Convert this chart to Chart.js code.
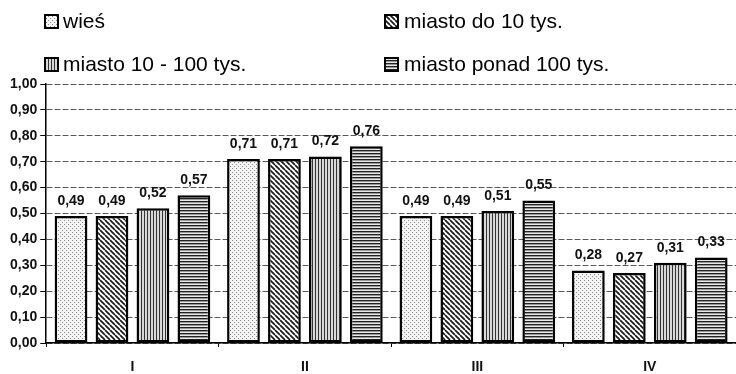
<!DOCTYPE html>
<html>
<head>
<meta charset="utf-8">
<script src="https://cdn.jsdelivr.net/npm/chart.js@4/dist/chart.umd.min.js"></script>
<style>
  html, body { margin: 0; padding: 0; background: #fff; }
  #wrap { width: 736px; height: 374px; position: relative; }
</style>
</head>
<body>
<div id="wrap"><canvas id="c"></canvas></div>
<script>
// Categories and series values
const categories = ['I', 'II', 'III', 'IV'];
const seriesNames = ['wieś', 'miasto do 10 tys.', 'miasto 10 - 100 tys.', 'miasto ponad 100 tys.'];
const wies = [0.49, 0.71, 0.49, 0.28];
const miastoDo10 = [0.49, 0.71, 0.49, 0.27];
const miasto10do100 = [0.52, 0.72, 0.51, 0.31];
const miastoPonad100 = [0.57, 0.76, 0.55, 0.33];
const yMin = 0, yMax = 1, yStep = 0.1;

const FONT = '"Liberation Sans", Arial, Helvetica, sans-serif';
const fmt = v => v.toFixed(2).replace('.', ',');

// Hatch fills for the four series
function makePattern(kind) {
  const c = document.createElement('canvas');
  const g = c.getContext('2d');
  if (kind === 'dots') {
    c.width = c.height = 4;
    g.fillStyle = '#f4f4f4'; g.fillRect(0, 0, 4, 4);
    g.fillStyle = '#8a8a8a';
    g.fillRect(0, 0, 1, 1); g.fillRect(2, 2, 1, 1);
  } else if (kind === 'diag') {
    const s = 5;
    c.width = c.height = s;
    g.fillStyle = '#fff'; g.fillRect(0, 0, s, s);
    g.strokeStyle = '#1a1a1a'; g.lineWidth = 1.7;
    for (const k of [-s, 0, s]) {
      g.beginPath(); g.moveTo(k, 0); g.lineTo(k + s, s); g.stroke();
    }
  } else if (kind === 'vert') {
    c.width = 3; c.height = 3;
    g.fillStyle = '#d8d8d8'; g.fillRect(0, 0, 3, 3);
    g.fillStyle = '#333'; g.fillRect(0, 0, 1, 3);
  } else {
    c.width = 3; c.height = 3;
    g.fillStyle = '#e8e8e8'; g.fillRect(0, 0, 3, 3);
    g.fillStyle = '#222'; g.fillRect(0, 0, 3, 1.4);
  }
  return g.createPattern(c, 'repeat');
}

const kinds = ['dots', 'diag', 'vert', 'horiz'];
const seriesData = [wies, miastoDo10, miasto10do100, miastoPonad100];

const datasets = seriesNames.map((name, i) => ({
  label: name,
  data: seriesData[i],
  backgroundColor: makePattern(kinds[i]),
  borderColor: '#000',
  borderWidth: 2.5,
  borderSkipped: false,
  categoryPercentage: 0.95,
  barPercentage: 0.8
}));

// Legend in two columns, two rows above the plot
const legendPlugin = {
  id: 'gridLegend',
  afterDraw(chart) {
    const ctx = chart.ctx;
    const boxX = [45, 385];
    const textX = [63, 404];
    const baselines = [28, 71];
    ctx.save();
    ctx.font = '21px ' + FONT;
    ctx.textBaseline = 'alphabetic';
    ctx.textAlign = 'left';
    chart.data.datasets.forEach((ds, i) => {
      const col = i % 2;
      const base = baselines[Math.floor(i / 2)];
      ctx.fillStyle = ds.backgroundColor;
      ctx.fillRect(boxX[col], base - 13, 13, 13);
      ctx.strokeStyle = '#000';
      ctx.lineWidth = 2;
      ctx.strokeRect(boxX[col], base - 13, 13, 13);
      ctx.fillStyle = '#000';
      ctx.fillText(ds.label, textX[col], base);
    });
    ctx.restore();
  }
};

// Value labels above each bar
const valueLabels = {
  id: 'valueLabels',
  afterDatasetsDraw(chart) {
    const ctx = chart.ctx;
    ctx.save();
    ctx.font = 'bold 14px ' + FONT;
    ctx.fillStyle = '#111';
    ctx.textAlign = 'center';
    ctx.textBaseline = 'bottom';
    chart.data.datasets.forEach((ds, i) => {
      const meta = chart.getDatasetMeta(i);
      meta.data.forEach((bar, j) => {
        ctx.fillText(fmt(ds.data[j]), bar.x, bar.y - 8);
      });
    });
    ctx.restore();
  }
};

new Chart(document.getElementById('c'), {
  type: 'bar',
  data: { labels: categories, datasets },
  options: {
    responsive: true,
    maintainAspectRatio: false,
    animation: false,
    devicePixelRatio: 1,
    layout: { padding: { top: 84, left: 7, right: 0, bottom: 0 } },
    plugins: { legend: { display: false }, tooltip: { enabled: false } },
    scales: {
      x: {
        afterFit(scale) { scale.height = 31; },
        grid: { offset: true, drawOnChartArea: false, tickLength: 4, color: '#000', lineWidth: 1 },
        border: { color: '#000', width: 1.5 },
        ticks: { color: '#111', font: { family: FONT, size: 14, weight: 'bold', lineHeight: 1 }, padding: 13 }
      },
      y: {
        min: yMin, max: yMax,
        grid: { color: '#5a5a5a', lineWidth: 1, tickLength: 6, tickColor: '#000' },
        border: { color: '#000', width: 1.5, dash: [6, 2] },
        ticks: {
          stepSize: yStep,
          color: '#111',
          font: { family: FONT, size: 14, weight: 'bold' },
          padding: 3,
          callback: v => fmt(v)
        }
      }
    }
  },
  plugins: [legendPlugin, valueLabels]
});
</script>
</body>
</html>
